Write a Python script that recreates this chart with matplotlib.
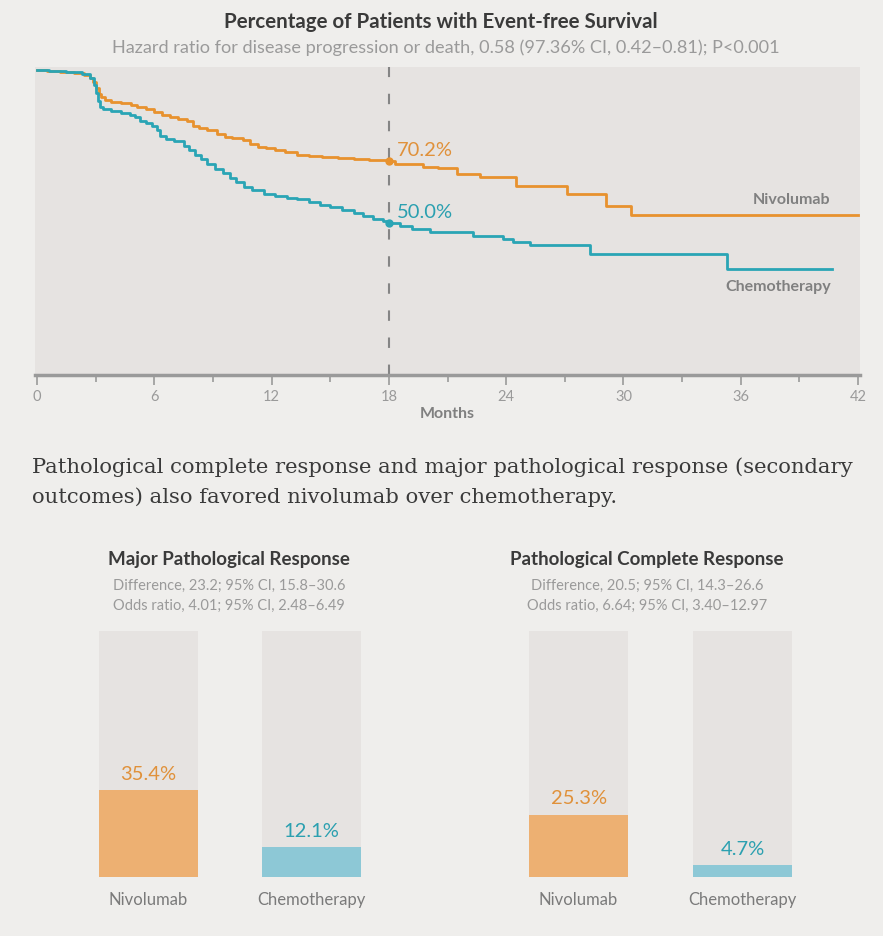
#!/usr/bin/env python3
import matplotlib
matplotlib.use("Agg")
import matplotlib.pyplot as plt
from matplotlib.ticker import MultipleLocator

# Kaplan-Meier step curves (months, % event-free)
nivo_months = [0, 0.5, 1.2, 1.9, 2.4, 2.7, 2.85, 3.0, 3.15, 3.3, 3.5, 3.8, 4.3, 4.8,
               5.1, 5.6, 6.0, 6.4, 6.8, 7.2, 7.66, 8.0, 8.3, 8.7, 9.2, 9.6, 10.0,
               10.55, 10.9, 11.3, 11.7, 12.2, 12.7, 13.3, 13.9, 14.6, 15.4, 16.2,
               17.0, 17.6, 18.0, 18.3, 19.76, 20.5, 21.47, 22.66, 24.5, 27.1, 29.1,
               30.4, 42.0]
nivo_surv = [100, 99.6, 99.2, 98.9, 98.5, 97.5, 96.0, 94.0, 92.3, 91.0, 90.2, 89.6,
             89.2, 88.4, 87.8, 87.2, 86.3, 85.4, 84.5, 84.0, 83.4, 81.8, 81.0, 80.2,
             78.9, 78.0, 77.6, 77.1, 75.6, 74.9, 74.4, 73.8, 73.2, 72.3, 71.9, 71.5,
             71.2, 70.9, 70.6, 70.4, 70.2, 69.3, 68.1, 67.8, 65.9, 65.0, 61.9, 59.3,
             55.5, 52.6, 52.6]

chemo_months = [0, 0.6, 1.5, 2.3, 2.7, 2.9, 3.0, 3.1, 3.2, 3.4, 3.8, 4.3, 4.76, 5.0,
                5.27, 5.6, 5.9, 6.12, 6.3, 6.6, 7.0, 7.5, 7.8, 8.1, 8.4, 8.7, 9.1,
                9.5, 9.9, 10.2, 10.6, 11.0, 11.6, 12.2, 12.8, 13.3, 13.9, 14.5, 15.0,
                15.6, 16.2, 16.7, 17.2, 17.7, 18.0, 18.57, 19.2, 20.1, 22.3, 23.85,
                24.36, 25.2, 28.3, 35.3, 40.65]
chemo_surv = [100, 99.6, 99.2, 98.7, 97.5, 95.0, 92.5, 90.0, 88.0, 87.2, 86.5, 86.0,
              85.4, 84.6, 83.4, 82.5, 81.5, 80.5, 78.5, 77.5, 76.6, 75.2, 73.8, 72.3,
              70.8, 69.2, 67.6, 66.2, 64.6, 63.2, 61.8, 60.6, 59.3, 58.6, 58.1, 57.7,
              56.8, 55.9, 55.0, 54.0, 53.1, 52.2, 51.3, 50.6, 50.0, 48.9, 47.8, 46.8,
              45.7, 44.6, 43.7, 42.6, 39.7, 34.8, 34.8]

landmark = 18
landmark_nivo = 70.2
landmark_chemo = 50.0

groups = ["Nivolumab", "Chemotherapy"]
mpr = [35.4, 12.1]
pcr = [25.3, 4.7]

# colours
BG = "#efeeec"
PANEL = "#e6e3e1"
ORANGE = "#e8922e"
TEAL = "#2aa5b5"
ORANGE_BAR = "#edb072"
TEAL_BAR = "#8dc8d6"
ORANGE_TXT = "#e0913a"
TEAL_TXT = "#2ba0b0"
GRAY = "#9a9a9a"
DARK = "#3a3a3a"

SANS = ["Lato", "DejaVu Sans"]

W, H = 883, 937
fig = plt.figure(figsize=(W / 100, H / 100), dpi=100, facecolor=BG)


def box(x0, y0, x1, y1):
  # pixel box -> figure fraction rect
  return [x0 / W, 1 - y1 / H, (x1 - x0) / W, (y1 - y0) / H]


# ---- survival panel ----
ax = fig.add_axes(box(35, 68, 860, 376))
ax.set_facecolor(PANEL)
ax.step(nivo_months, nivo_surv, where="post", color=ORANGE, lw=2.0, zorder=3)
ax.step(chemo_months, chemo_surv, where="post", color=TEAL, lw=2.0, zorder=3)
ax.axvline(landmark, color="#858585", lw=1.5, dashes=(5, 8), zorder=2)
ax.plot([landmark], [landmark_nivo], "o", color=ORANGE, ms=5, zorder=4)
ax.plot([landmark], [landmark_chemo], "o", color=TEAL, ms=5, zorder=4)
ax.annotate(f"{landmark_nivo:.1f}%", (landmark, landmark_nivo), xytext=(6, 2),
            textcoords="offset points", color=ORANGE_TXT, fontsize=14.5,
            family=SANS, va="bottom", ha="left")
ax.annotate(f"{landmark_chemo:.1f}%", (landmark, landmark_chemo), xytext=(6, 2),
            textcoords="offset points", color=TEAL_TXT, fontsize=14.5,
            family=SANS, va="bottom", ha="left")
ax.text(40.6, 57.7, groups[0], color="#808080", fontsize=11.5, family=SANS,
        fontweight="bold", ha="right", va="center")
ax.text(40.6, 29.2, groups[1], color="#808080", fontsize=11.5, family=SANS,
        fontweight="bold", ha="right", va="center")

ax.set_xlim(-0.1, 42.1)
ax.set_ylim(0, 101)
ax.set_yticks([])
ax.xaxis.set_major_locator(MultipleLocator(6))
ax.xaxis.set_minor_locator(MultipleLocator(3))
ax.tick_params(axis="x", which="both", direction="out", color=GRAY, width=1.2,
               labelcolor=GRAY, labelsize=10.5, pad=3)
ax.tick_params(axis="x", which="major", length=7)
ax.tick_params(axis="x", which="minor", length=5)
for lab in ax.get_xticklabels():
  lab.set_family(SANS)
for side in ["top", "left", "right"]:
  ax.spines[side].set_visible(False)
ax.spines["bottom"].set_color(GRAY)
ax.spines["bottom"].set_linewidth(2.5)
ax.set_xlabel("Months", color="#808080", fontsize=11.5, family=SANS,
              fontweight="bold", labelpad=2)

fig.text(441 / W, 1 - 22 / H, "Percentage of Patients with Event-free Survival",
         ha="center", va="center", fontsize=14.8, fontweight="bold",
         family=SANS, color=DARK)
fig.text(446 / W, 1 - 48 / H,
         "Hazard ratio for disease progression or death, 0.58 (97.36% CI, 0.42\u20130.81); P<0.001",
         ha="center", va="center", fontsize=13.1, family=SANS, color=GRAY)

# ---- paragraph ----
fig.text(32 / W, 1 - 467 / H,
         "Pathological complete response and major pathological response (secondary",
         ha="left", va="center", fontsize=15.2, family="DejaVu Serif", color=DARK)
fig.text(32 / W, 1 - 497 / H,
         "outcomes) also favored nivolumab over chemotherapy.",
         ha="left", va="center", fontsize=15.2, family="DejaVu Serif", color=DARK)

# ---- bar panels ----
panels = [
  ("Major Pathological Response",
   ["Difference, 23.2; 95% CI, 15.8\u201330.6", "Odds ratio, 4.01; 95% CI, 2.48\u20136.49"],
   mpr, 99, 361, 229),
  ("Pathological Complete Response",
   ["Difference, 20.5; 95% CI, 14.3\u201326.6", "Odds ratio, 6.64; 95% CI, 3.40\u201312.97"],
   pcr, 529, 792, 647),
]
bw = 0.6055
for title, lines, vals, x0, x1, xc in panels:
  bax = fig.add_axes(box(x0, 632, x1, 878))
  bax.set_facecolor("none")
  pos = range(len(groups))
  bax.bar(pos, [100] * len(groups), width=bw, color=PANEL, zorder=1)
  bars = bax.bar(pos, vals, width=bw, color=[ORANGE_BAR, TEAL_BAR], zorder=2)
  for b, v, c in zip(bars, vals, [ORANGE_TXT, TEAL_TXT]):
    bax.annotate(f"{v}%", (b.get_x() + b.get_width() / 2, v), xytext=(0, 6),
                 textcoords="offset points", ha="center", va="bottom",
                 color=c, fontsize=14.5, family=SANS)
  bax.set_xlim(-bw / 2, len(groups) - 1 + bw / 2)
  bax.set_ylim(0, 100)
  bax.set_yticks([])
  bax.set_xticks(list(pos))
  bax.set_xticklabels(groups, family=SANS, fontsize=12, color="#7a7a7a")
  bax.tick_params(axis="x", length=0, pad=10)
  for s in bax.spines.values():
    s.set_visible(False)
  fig.text(xc / W, 1 - 560 / H, title, ha="center", va="center", fontsize=13.5,
           fontweight="bold", family=SANS, color=DARK)
  fig.text(xc / W, 1 - 586 / H, lines[0], ha="center", va="center",
           fontsize=10.5, family=SANS, color=GRAY)
  fig.text(xc / W, 1 - 606 / H, lines[1], ha="center", va="center",
           fontsize=10.5, family=SANS, color=GRAY)

fig.savefig("out.png", dpi=100, facecolor=BG)
